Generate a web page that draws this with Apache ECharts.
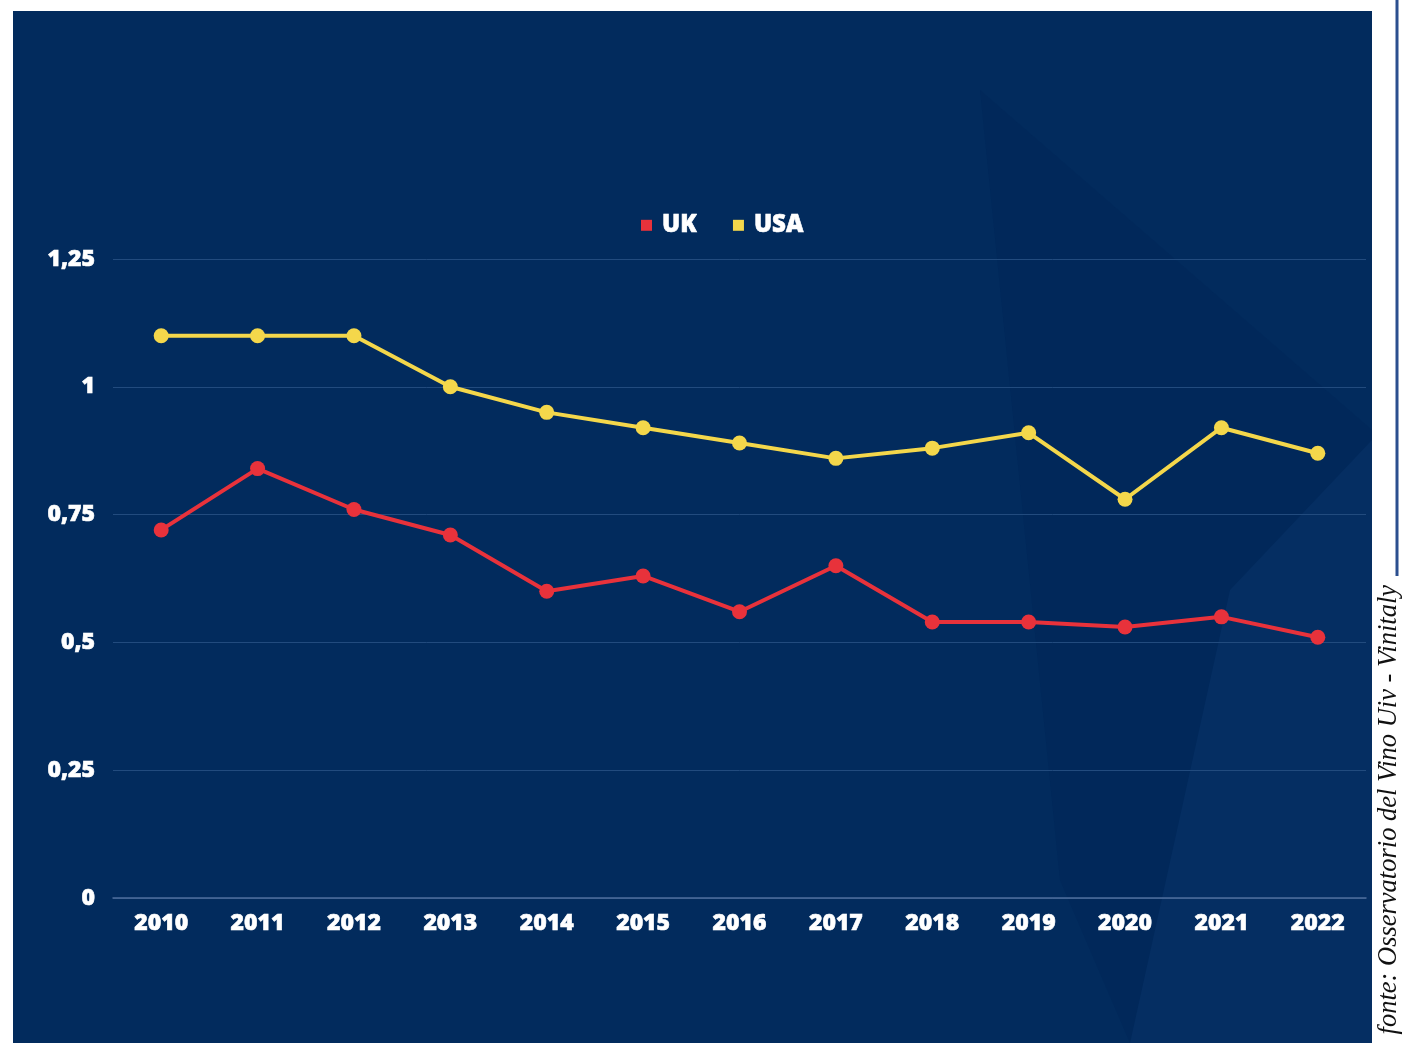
<!DOCTYPE html>
<html><head><meta charset="utf-8">
<script src="https://cdn.jsdelivr.net/npm/echarts@6/dist/echarts.min.js"></script>
<style>html,body{margin:0;padding:0;background:#fff;}#c{width:1405px;height:1043px;}</style>
</head><body><div id="c"></div>
<script>
const years = ['2010','2011','2012','2013','2014','2015','2016','2017','2018','2019','2020','2021','2022'];
const ukValues = [0.72,0.84,0.76,0.71,0.60,0.63,0.56,0.65,0.54,0.54,0.53,0.55,0.51];
const usaValues = [1.10,1.10,1.10,1.00,0.95,0.92,0.89,0.86,0.88,0.91,0.78,0.92,0.87];
const yTicks = [0,0.25,0.5,0.75,1,1.25];
const sourceText = 'fonte: Osservatorio del Vino Uiv - Vinitaly';

const chart = echarts.init(document.getElementById('c'), null, {renderer:'canvas'});
const fmt = v => String(v).replace('.', ',');
const heavy = {color:'#fff', fontWeight:800, fontFamily:'"Open Sans"', textBorderColor:'#fff', textBorderWidth:0.6};
chart.setOption({
  backgroundColor:'#ffffff',
  animation:false,
  graphic:[
    {type:'rect', shape:{x:13,y:11,width:1359,height:1032}, style:{fill:'#022b5d'}, z:-10},
    {type:'polygon', shape:{points:[[980,90],[1372,430],[1372,1043],[1130,1043],[1060,880]]}, style:{fill:'#01285a'}, z:-9},
    {type:'polygon', shape:{points:[[1230,590],[1372,440],[1372,1043],[1130,1043]]}, style:{fill:'#052e62'}, z:-9},
    {type:'line', shape:{x1:1397,y1:0,x2:1397,y2:576}, style:{stroke:'#2b4f8f', lineWidth:3}},
    {type:'text', x:1403, y:585, rotation:Math.PI/2,
     style:{text:sourceText, font:'italic 26.5px "Liberation Serif", serif', fill:'#111', align:'right', verticalAlign:'bottom'}}
  ],
  legend:{
    top:208, left:636, itemWidth:11, itemHeight:11, itemGap:36,
    icon:'rect',
    textStyle:Object.assign({fontSize:24, padding:[0,0,0,5]}, heavy),
    data:['UK','USA']
  },
  grid:{left:113, right:39, top:259, bottom:145, containLabel:false},
  xAxis:{
    type:'category', data:years, boundaryGap:true,
    axisLine:{lineStyle:{color:'#4e6d9c', width:1.5}},
    axisTick:{show:false},
    axisLabel:Object.assign({fontSize:23, margin:14}, heavy)
  },
  yAxis:{
    type:'value', min:0, max:1.25, interval:0.25,
    axisLine:{show:false}, axisTick:{show:false},
    splitLine:{lineStyle:{color:'#224b7e', width:1}},
    axisLabel:Object.assign({fontSize:23, margin:18,
      formatter: v => yTicks.includes(v) ? fmt(v) : ''}, heavy)
  },
  series:[
    {name:'UK', type:'line', data:ukValues, color:'#e8323b', symbol:'circle', symbolSize:15,
     lineStyle:{width:4, color:'#e8323b'}, itemStyle:{color:'#e8323b'}},
    {name:'USA', type:'line', data:usaValues, color:'#f4d74b', symbol:'circle', symbolSize:15,
     lineStyle:{width:4, color:'#f4d74b'}, itemStyle:{color:'#f4d74b'}}
  ]
});
</script></body></html>
